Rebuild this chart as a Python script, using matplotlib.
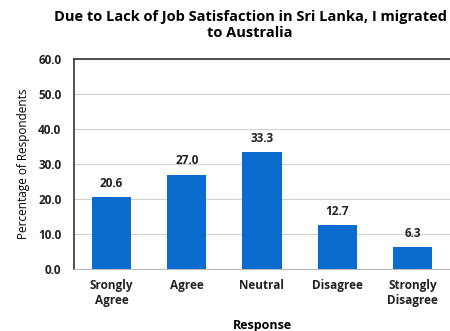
import matplotlib
matplotlib.use("Agg")
import matplotlib.pyplot as plt

categories = ["Srongly\nAgree", "Agree", "Neutral", "Disagree", "Strongly\nDisagree"]
percentages = [20.6, 27.0, 33.3, 12.7, 6.3]
y_ticks = [0, 10, 20, 30, 40, 50, 60]

plt.rcParams["font.family"] = ["Open Sans", "DejaVu Sans"]
plt.rcParams["font.weight"] = "bold"

fig = plt.figure(figsize=(4.5, 3.31), dpi=100)
ax = fig.add_axes([74 / 450, 1 - 269 / 331, 376 / 450, 210 / 331])

x = range(len(categories))
bars = ax.bar(x, percentages, width=0.52, color="#0a6ccc", zorder=3)
for xi, v in zip(x, percentages):
    ax.text(xi, v + 2.0, f"{v:.1f}", ha="center", va="bottom",
            fontsize=8.5, fontweight="bold", color="#222222")

ax.set_xlim(-0.5, len(categories) - 0.5)
ax.set_ylim(0, 60)
ax.set_yticks(y_ticks)
ax.set_yticklabels([f"{t:.1f}" for t in y_ticks], fontsize=8.5, fontweight="bold")
ax.set_xticks(list(x))
ax.set_xticklabels(categories, fontsize=8.5, fontweight="bold", linespacing=1.2)
ax.tick_params(axis="y", length=0, pad=9, colors="#222222")
ax.tick_params(axis="x", length=0, pad=7, colors="#222222")
ax.yaxis.grid(True, color="#d0d0d0", linewidth=0.8, zorder=0)

for side in ["left", "top"]:
    ax.spines[side].set_color("#333333")
    ax.spines[side].set_linewidth(1.2)
ax.spines["right"].set_visible(False)
ax.spines["bottom"].set_color("#bbbbbb")
ax.spines["bottom"].set_linewidth(0.8)

ax.set_xlabel("Response", fontsize=9, fontweight="bold", labelpad=9)
ax.set_ylabel("Percentage of Respondents", fontsize=8.5, fontweight="normal", labelpad=6)
fig.text(250 / 450, 1 - 25 / 331,
         "Due to Lack of Job Satisfaction in Sri Lanka, I migrated\nto Australia",
         ha="center", va="center", fontsize=10.5, fontweight="bold", linespacing=1.25)

fig.savefig("out.png", dpi=100)
